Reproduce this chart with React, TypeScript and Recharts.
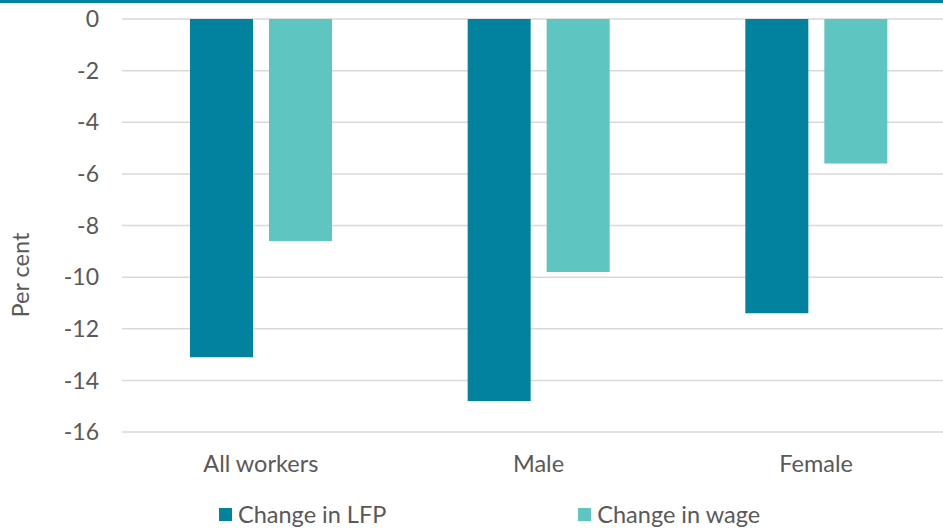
import { BarChart, Bar, XAxis, YAxis, CartesianGrid, Legend } from "recharts";

// Percentage change by worker group
const categories = ["All workers", "Male", "Female"];
const lfpChange = [-13.1, -14.8, -11.4];
const wageChange = [-8.6, -9.8, -5.6];
const yTicks = [0, -2, -4, -6, -8, -10, -12, -14, -16];

const seriesNames = { lfp: "Change in LFP", wage: "Change in wage" };

const data = categories.map((name, i) => ({
  name,
  lfp: lfpChange[i],
  wage: wageChange[i],
}));

const TEXT = "#595959";
const DARK = "#02829F";
const LIGHT = "#5FC5C1";

const renderLegend = (props: any) => {
  const { payload } = props;
  return (
    <div
      style={{
        display: "flex",
        alignItems: "center",
        fontSize: 23.5,
        lineHeight: "28px",
        color: TEXT,
        whiteSpace: "nowrap",
      }}
    >
      {payload.map((entry: any, i: number) => (
        <div
          key={entry.value}
          style={{ display: "flex", alignItems: "center", marginRight: i === 0 ? 192 : 0 }}
        >
          <span
            style={{
              display: "inline-block",
              width: 13,
              height: 13,
              background: entry.color,
              marginRight: 6,
            }}
          />
          <span>{entry.value}</span>
        </div>
      ))}
    </div>
  );
};

const YLabel = () => (
  <text
    x={20}
    y={275}
    transform="rotate(-90, 20, 275)"
    textAnchor="middle"
    dominantBaseline="central"
    fill={TEXT}
    fontSize={23.5}
  >
    Per cent
  </text>
);

export default function App() {
  return (
    <div
      style={{
        position: "absolute",
        top: 0,
        left: 0,
        width: 943,
        height: 528,
        overflow: "hidden",
        background: "#fff",
        fontFamily: "Lato, sans-serif",
      }}
    >
      <div
        style={{
          position: "absolute",
          top: 0,
          left: 0,
          width: 943,
          height: 3,
          background: "#0083A0",
          zIndex: 2,
        }}
      />
      <BarChart
        width={960}
        height={528}
        data={data}
        margin={{ top: 19, right: 5, left: 0, bottom: 36 }}
        barGap={16}
      >
        <CartesianGrid vertical={false} stroke="#D9D9D9" strokeWidth={1.5} />
        <XAxis
          dataKey="name"
          axisLine={false}
          tickLine={false}
          tickSize={0}
          tickMargin={23}
          height={60}
          tick={{ fill: TEXT, fontSize: 23.5 }}
        />
        <YAxis
          domain={[-16, 0]}
          ticks={yTicks}
          interval={0}
          axisLine={false}
          tickLine={false}
          tickSize={0}
          tickMargin={23}
          width={122}
          tick={{ fill: TEXT, fontSize: 23 }}
          label={<YLabel />}
        />
        <Legend
          verticalAlign="middle"
          align="center"
          layout="horizontal"
          content={renderLegend}
          wrapperStyle={{ top: 500, left: 219, width: 700 }}
        />
        <Bar dataKey="lfp" name={seriesNames.lfp} fill={DARK} barSize={63} isAnimationActive={false} />
        <Bar dataKey="wage" name={seriesNames.wage} fill={LIGHT} barSize={63} isAnimationActive={false} />
      </BarChart>
    </div>
  );
}
